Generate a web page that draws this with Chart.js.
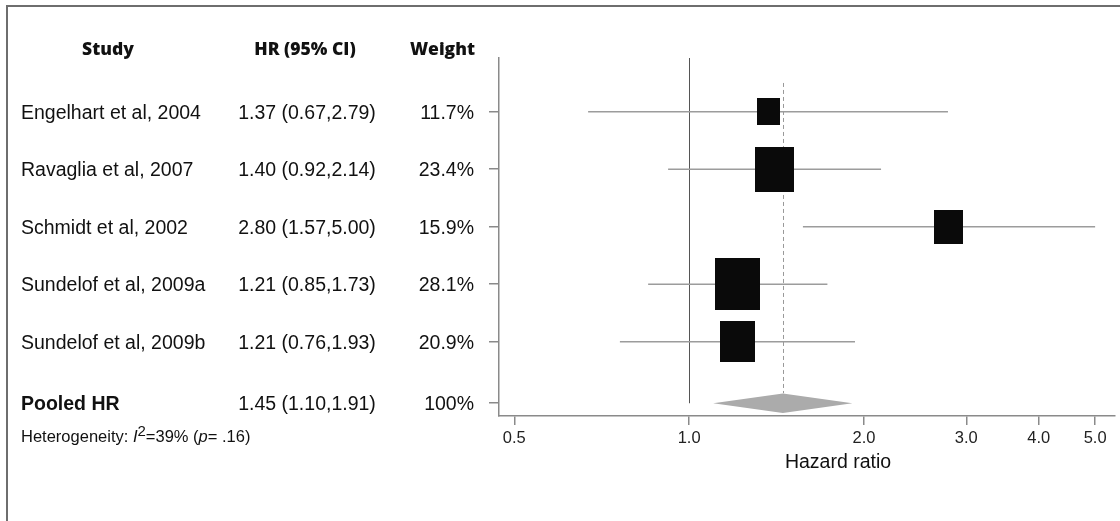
<!DOCTYPE html>
<html>
<head>
<meta charset="utf-8">
<title>Forest plot</title>
<style>
  html, body { margin: 0; padding: 0; background: #fff; }
  canvas { display: block; }
</style>
<script src="https://cdn.jsdelivr.net/npm/chart.js@4.4.1/dist/chart.umd.min.js"></script>
</head>
<body>
<canvas id="forest" width="1120" height="521"></canvas>
<script>
// study data
const studies = ['Engelhart et al, 2004', 'Ravaglia et al, 2007', 'Schmidt et al, 2002', 'Sundelof et al, 2009a', 'Sundelof et al, 2009b'];
const hr = [1.37, 1.40, 2.80, 1.21, 1.21];
const ciLow = [0.67, 0.92, 1.57, 0.85, 0.76];
const ciHigh = [2.79, 2.14, 5.00, 1.73, 1.93];
const weights = [11.7, 23.4, 15.9, 28.1, 20.9];
const rows = [1, 2, 3, 4, 5];

const pooledLabel = 'Pooled HR';
const pooledHr = 1.45;
const pooledLow = 1.10;
const pooledHigh = 1.91;
const pooledWeight = '100%';
const pooledRow = 6.07;

const xTicks = [0.5, 1, 2, 3, 4, 5];
const xTickLabels = ['0.5', '1.0', '2.0', '3.0', '4.0', '5.0'];

const SANS = '"Liberation Sans", Arial, sans-serif';
const HEAD = '"Open Sans", "Noto Sans", sans-serif';

const fmt = v => v.toFixed(2);

// box sized by study weight
function boxFor(w) {
  const bw = Math.round(7.9 + 1.32 * w);
  const bh = Math.round(bw * 1.16);
  const c = document.createElement('canvas');
  c.width = bw; c.height = bh;
  const g = c.getContext('2d');
  g.fillStyle = '#0a0a0a';
  g.fillRect(0, 0, bw, bh);
  return c;
}

const ciSets = studies.map((s, i) => ({
  type: 'line',
  label: s,
  data: [{ x: ciLow[i], y: rows[i] }, { x: ciHigh[i], y: rows[i] }],
  borderColor: '#9c9c9c',
  borderWidth: 1.5,
  pointRadius: 0,
  order: 2
}));

const boxSet = {
  type: 'scatter',
  label: 'HR',
  data: hr.map((v, i) => ({ x: v, y: rows[i] })),
  pointStyle: weights.map(boxFor),
  pointRadius: 1,
  order: 0
};

const forestPlugin = {
  id: 'forest',
  beforeDatasetsDraw(chart) {
    const ctx = chart.ctx;
    const xs = chart.scales.x, ys = chart.scales.y;
    ctx.save();
    // line of no effect
    ctx.strokeStyle = '#555';
    ctx.lineWidth = 1;
    const x1 = Math.round(xs.getPixelForValue(1)) + 0.5;
    ctx.beginPath();
    ctx.moveTo(x1, chart.chartArea.top);
    ctx.lineTo(x1, ys.getPixelForValue(pooledRow));
    ctx.stroke();
    // pooled estimate
    const xp = Math.round(xs.getPixelForValue(pooledHr)) + 0.5;
    ctx.strokeStyle = '#999';
    ctx.setLineDash([4, 3]);
    ctx.beginPath();
    ctx.moveTo(xp, ys.getPixelForValue(0.5));
    ctx.lineTo(xp, ys.getPixelForValue(pooledRow) - 10);
    ctx.stroke();
    ctx.restore();
  },
  afterDatasetsDraw(chart) {
    const ctx = chart.ctx;
    const xs = chart.scales.x, ys = chart.scales.y;
    const yc = ys.getPixelForValue(pooledRow);
    ctx.save();
    ctx.fillStyle = '#ababab';
    ctx.beginPath();
    ctx.moveTo(xs.getPixelForValue(pooledLow), yc);
    ctx.lineTo(xs.getPixelForValue(pooledHr), yc - 9.7);
    ctx.lineTo(xs.getPixelForValue(pooledHigh), yc);
    ctx.lineTo(xs.getPixelForValue(pooledHr), yc + 9.7);
    ctx.closePath();
    ctx.fill();
    ctx.restore();
  },
  afterDraw(chart) {
    const ctx = chart.ctx;
    const ys = chart.scales.y;
    ctx.save();
    // frame
    ctx.strokeStyle = '#6e6e6e';
    ctx.lineWidth = 2;
    ctx.strokeRect(7, 6, 1300, 700);

    ctx.fillStyle = '#111';
    ctx.textBaseline = 'middle';
    // headers
    ctx.font = '800 17.5px ' + HEAD;
    ctx.textAlign = 'center';
    ctx.fillText('Study', 108, 50);
    ctx.fillText('HR (95% CI)', 305, 50);
    ctx.textAlign = 'right';
    ctx.fillText('Weight', 475, 50);

    // study rows
    ctx.font = '19.5px ' + SANS;
    studies.forEach((s, i) => {
      const y = ys.getPixelForValue(rows[i]) + 1.5;
      ctx.textAlign = 'left';
      ctx.fillText(s, 21, y);
      ctx.textAlign = 'center';
      ctx.fillText(fmt(hr[i]) + ' (' + fmt(ciLow[i]) + ',' + fmt(ciHigh[i]) + ')', 307, y);
      ctx.textAlign = 'right';
      ctx.fillText(weights[i].toFixed(1) + '%', 474, y);
    });

    // pooled row
    const yp = ys.getPixelForValue(pooledRow) + 1;
    ctx.font = 'bold 19.5px ' + SANS;
    ctx.textAlign = 'left';
    ctx.fillText(pooledLabel, 21, yp);
    ctx.font = '19.5px ' + SANS;
    ctx.textAlign = 'center';
    ctx.fillText(fmt(pooledHr) + ' (' + fmt(pooledLow) + ',' + fmt(pooledHigh) + ')', 307, yp);
    ctx.textAlign = 'right';
    ctx.fillText(pooledWeight, 474, yp);

    // heterogeneity note
    ctx.textAlign = 'left';
    let x = 21;
    const yh = 437;
    const part = (txt, font, dy) => {
      ctx.font = font;
      ctx.fillText(txt, x, yh + (dy || 0));
      x += ctx.measureText(txt).width;
    };
    part('Heterogeneity: ', '16.5px ' + SANS);
    part('I', 'italic 16.5px ' + SANS);
    part('2', '15px ' + SANS, -5);
    part('=39% (', '16.5px ' + SANS);
    part('p', 'italic 16.5px ' + SANS);
    part('= .16)', '16.5px ' + SANS);

    // axis title
    ctx.font = '19.5px ' + SANS;
    ctx.textAlign = 'center';
    ctx.fillText('Hazard ratio', 838, 463);
    ctx.restore();
  }
};

new Chart(document.getElementById('forest'), {
  data: { datasets: [...ciSets, boxSet] },
  options: {
    responsive: false,
    animation: false,
    layout: { padding: { left: 489, top: 58, right: 0, bottom: 0 } },
    plugins: { legend: { display: false }, tooltip: { enabled: false } },
    scales: {
      x: {
        type: 'logarithmic',
        min: 0.4706,
        max: 5.41,
        afterBuildTicks: s => { s.ticks = xTicks.map(v => ({ value: v })); },
        afterFit: s => { s.height = 105; s.paddingLeft = 0; s.paddingRight = 0; },
        ticks: {
          autoSkip: false,
          maxRotation: 0,
          padding: 4,
          color: '#222',
          font: { family: SANS, size: 16.5 },
          callback: (v, i) => xTickLabels[i]
        },
        grid: { drawOnChartArea: false, tickLength: 9, color: '#8a8a8a', lineWidth: 1.5 },
        border: { color: '#8a8a8a', width: 1.5 }
      },
      y: {
        type: 'linear',
        reverse: true,
        min: 0.066,
        max: 6.292,
        afterBuildTicks: s => { s.ticks = rows.concat([pooledRow]).map(v => ({ value: v })); },
        afterFit: s => { s.width = 10; },
        ticks: { display: false },
        grid: { drawOnChartArea: false, tickLength: 10, color: '#8a8a8a', lineWidth: 1.5 },
        border: { color: '#8a8a8a', width: 1.5 }
      }
    }
  },
  plugins: [forestPlugin]
});
</script>
</body>
</html>
